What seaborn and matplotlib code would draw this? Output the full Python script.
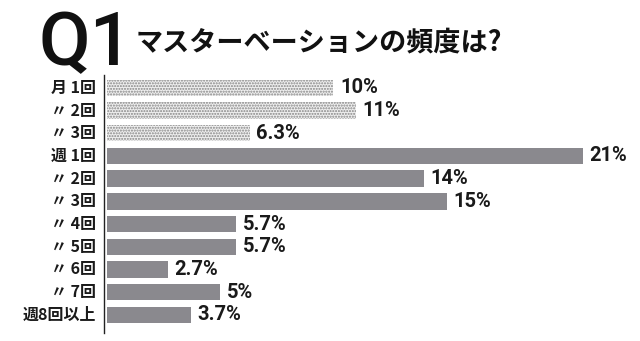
import matplotlib
matplotlib.use("Agg")
import matplotlib.pyplot as plt
import matplotlib.transforms as mtransforms
import seaborn as sns
import pandas as pd

# Survey answers: how often
categories = ["月 1回", "〃 2回", "〃 3回", "週 1回", "〃 2回", "〃 3回",
              "〃 4回", "〃 5回", "〃 6回", "〃 7回", "週8回以上"]
percent = [10, 11, 6.3, 21, 14, 15, 5.7, 5.7, 2.7, 5, 3.7]
value_labels = ["10%", "11%", "6.3%", "21%", "14%", "15%",
                "5.7%", "5.7%", "2.7%", "5%", "3.7%"]
monthly_rows = 3  # first rows are "per month" answers, drawn dotted

sns.set_theme(style="white")
plt.rcParams["font.family"] = ["Noto Sans CJK JP", "DejaVu Sans"]

df = pd.DataFrame({"answer": categories, "pct": percent,
                   "row": range(len(categories))})

fig = plt.figure(figsize=(6.4, 3.41), dpi=100)
ax = fig.add_axes([0.1625, 0.0235, 0.81875, 0.7554])

sns.barplot(data=df, x="pct", y="row", orient="h", color="#8a898e",
            saturation=1, width=0.72, ax=ax)

for i, bar in enumerate(ax.patches):
    if i < monthly_rows:
        bar.set_facecolor("#efefef")
        bar.set_hatch("......")
        bar.set_edgecolor("#858585")
        bar.set_linewidth(0)
    else:
        bar.set_edgecolor("none")

for i, (v, txt) in enumerate(zip(percent, value_labels)):
    ax.text(v + 0.3, i, txt, va="center", ha="left", fontsize=14.5,
            fontweight="bold", family=["Roboto", "DejaVu Sans"], color="#1a1a1a")

# Category labels, right-aligned against the axis line
label_tf = mtransforms.blended_transform_factory(ax.transAxes, ax.transData)
for i, name in enumerate(df["answer"]):
    ax.text(-0.015, i, name, transform=label_tf, ha="right", va="center",
            fontsize=11.5, fontweight="bold", color="#1a1a1a")

ax.set_xlim(-0.12, 23)
ax.set_ylim(10.8, -0.55)
ax.set_yticks([])
ax.set_xticks([])
ax.set_xlabel("")
ax.set_ylabel("")
for s in ["top", "right", "bottom"]:
    ax.spines[s].set_visible(False)
ax.spines["left"].set_color("#222222")
ax.spines["left"].set_linewidth(1.0)
ax.spines["left"].set_position(("data", -0.12))

# Heading
fig.text(0.060, 0.809, "Q1", fontsize=54, fontweight="medium",
         family=["Roboto", "DejaVu Sans"], color="#111111",
         va="baseline", ha="left")
fig.text(0.212, 0.835, "マスターベーションの頻度は?", fontsize=19.5,
         fontweight="bold", color="#111111", va="bottom", ha="left")

fig.savefig("out.png", dpi=100)
